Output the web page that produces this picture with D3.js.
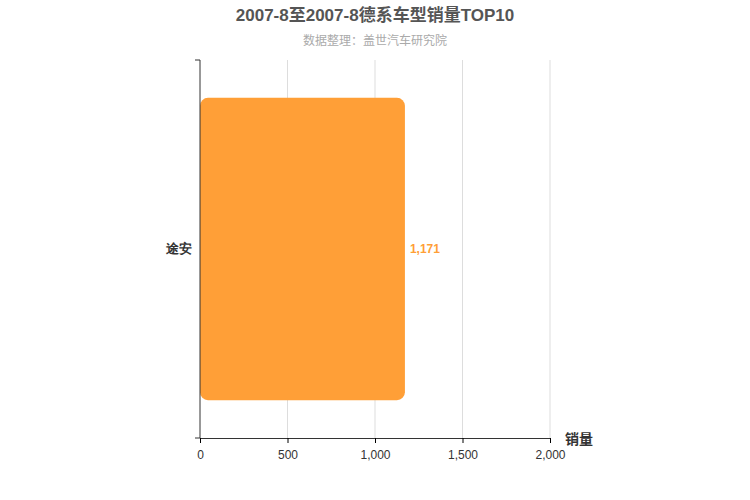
<!DOCTYPE html>
<html><head><meta charset="utf-8">
<script src="https://cdn.jsdelivr.net/npm/d3@7"></script>
<style>body{margin:0;background:#fff;font-family:"Liberation Sans","Noto Sans CJK SC",sans-serif}</style>
</head><body><div id="chart"></div>
<script>
const categories = ["途安"];
const values = [1171];
const xTicks = [0, 500, 1000, 1500, 2000];

const W = 750, H = 500, m = {top: 60, left: 200, right: 200, bottom: 62};
const svg = d3.select("#chart").append("svg").attr("width", W).attr("height", H);

svg.append("text").attr("x", W / 2).attr("y", 21).attr("text-anchor", "middle")
  .style("font-size", "17px").style("font-weight", "bold").style("fill", "#555")
  .text("2007-8至2007-8德系车型销量TOP10");
svg.append("text").attr("x", W / 2).attr("y", 45).attr("text-anchor", "middle")
  .style("font-size", "12px").style("fill", "#aaa").text("数据整理：盖世汽车研究院");

const x = d3.scaleLinear().domain([0, 2000]).range([m.left, W - m.right]);
const y = d3.scaleBand().domain(categories).range([m.top, H - m.bottom]).paddingInner(0.2).paddingOuter(0.1);

// grid
svg.selectAll("line.grid").data(xTicks.slice(1)).enter().append("line")
  .attr("x1", d => x(d)).attr("x2", d => x(d)).attr("y1", m.top).attr("y2", H - m.bottom)
  .style("stroke", "#ddd");

// bars
svg.selectAll("path.bar").data(values).enter().append("rect")
  .attr("x", x(0)).attr("y", (d, i) => y(categories[i]))
  .attr("width", d => x(d) - x(0)).attr("height", y.bandwidth())
  .attr("rx", 8).style("fill", "#ff9f37");

svg.selectAll("text.val").data(values).enter().append("text")
  .attr("x", d => x(d) + 5).attr("y", (d, i) => y(categories[i]) + y.bandwidth() / 2 + 4)
  .style("font-size", "12px").style("font-weight", "bold").style("fill", "#ff9f37")
  .text(d => d3.format(",")(d));

// axes
const xa = svg.append("g").attr("transform", `translate(0,${H - m.bottom})`)
  .call(d3.axisBottom(x).tickValues(xTicks).tickSize(5).tickFormat(d3.format(",")));
xa.select(".domain").style("stroke", "#333");
xa.selectAll("text").style("font-size", "12px").style("fill", "#333").attr("dy", "1.1em");

const ya = svg.append("g").attr("transform", `translate(${m.left},0)`)
  .call(d3.axisLeft(y).tickSize(0).tickPadding(8));
ya.select(".domain").attr("d", `M-5,${m.top}H0V${H - m.bottom}H-5`).style("stroke", "#333");
ya.selectAll("text").style("font-size", "13px").style("font-weight", "bold").style("fill", "#333");

svg.append("text").attr("x", 565).attr("y", 444).style("font-size", "14px")
  .style("font-weight", "bold").style("fill", "#333").text("销量");
</script></body></html>
